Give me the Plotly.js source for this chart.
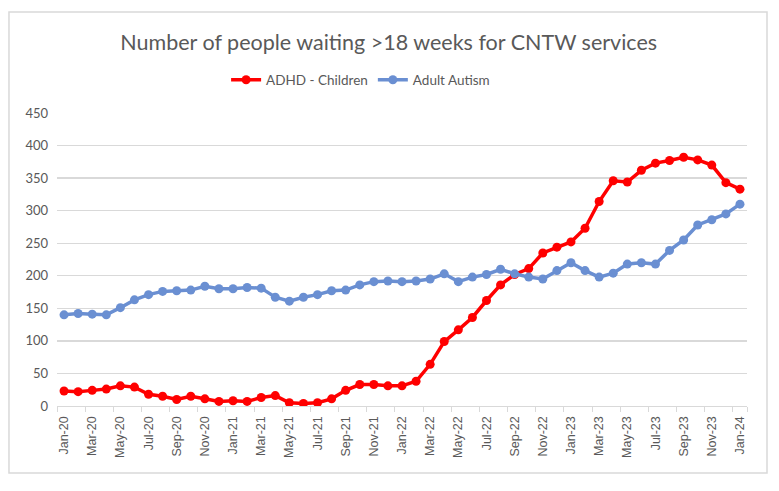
<!DOCTYPE html>
<html>
<head>
<meta charset="utf-8">
<script src="https://cdn.plot.ly/plotly-3.0.1.min.js"></script>
<style>html,body{margin:0;padding:0;background:#fff;}#chart{width:779px;height:491px;}</style>
</head>
<body>
<div id="chart"></div>
<script>
const months = ["Jan-20","Feb-20","Mar-20","Apr-20","May-20","Jun-20","Jul-20","Aug-20","Sep-20","Oct-20","Nov-20","Dec-20",
"Jan-21","Feb-21","Mar-21","Apr-21","May-21","Jun-21","Jul-21","Aug-21","Sep-21","Oct-21","Nov-21","Dec-21",
"Jan-22","Feb-22","Mar-22","Apr-22","May-22","Jun-22","Jul-22","Aug-22","Sep-22","Oct-22","Nov-22","Dec-22",
"Jan-23","Feb-23","Mar-23","Apr-23","May-23","Jun-23","Jul-23","Aug-23","Sep-23","Oct-23","Nov-23","Dec-23","Jan-24"];
const adhdChildren = [23,22,24,26,31,29,18,15,10,15,11,7,8,7,13,16,5,4,5,11,24,33,33,31,31,38,64,99,117,136,162,186,202,211,235,244,252,273,314,346,344,362,373,377,382,378,370,343,333];
const adultAutism = [140,142,141,140,151,163,171,176,177,178,184,180,180,182,181,167,161,167,171,177,178,186,191,192,191,192,195,203,191,198,202,210,203,198,195,208,220,208,198,204,218,220,218,239,255,278,286,295,310];
const tickLabels = months.filter((m,i)=>i%2===0);
const yTicks = [0,50,100,150,200,250,300,350,400,450];

const traces = [
  {x: months, y: adhdChildren, name: "ADHD - Children", type: "scatter", mode: "lines+markers",
   line: {color: "#FF0000", width: 3.5}, marker: {color: "#FF0000", size: 9}},
  {x: months, y: adultAutism, name: "Adult Autism", type: "scatter", mode: "lines+markers",
   line: {color: "#6A8FD2", width: 3.5}, marker: {color: "#6A8FD2", size: 9}}
];

const layout = {
  width: 779, height: 491,
  margin: {l: 57, r: 32, t: 113, b: 85},
  paper_bgcolor: "#ffffff", plot_bgcolor: "#ffffff",
  font: {family: "Lato, 'Open Sans', sans-serif", color: "#595959"},
  title: {text: "Number of people waiting >18 weeks for CNTW services", font: {size: 21.5, color: "#595959", family: "Lato, 'Open Sans', sans-serif"},
          x: 0.499, xanchor: "center", xref: "container", y: 0.914, yref: "container", yanchor: "middle"},
  showlegend: true,
  legend: {orientation: "h", x: 0.44, xanchor: "center", y: 1.1126, yanchor: "middle",
           font: {size: 13.5, color: "#595959"}, bgcolor: "rgba(0,0,0,0)", traceorder: "normal"},
  xaxis: {type: "category", range: [-0.5, 48.5], tickmode: "array", tickvals: tickLabels, ticktext: tickLabels,
          tickangle: -90, tickfont: {size: 12.5, color: "#595959", family: "'Liberation Sans', Arial, sans-serif"},
          showgrid: false, showline: true, linecolor: "#d9d9d9", linewidth: 1.3,
          ticks: "outside", tickson: "boundaries", ticklen: 5, tickcolor: "#d9d9d9", zeroline: false, fixedrange: true,
          ticklabelstandoff: 4},
  yaxis: {range: [0, 450], tickmode: "array", tickvals: yTicks, showgrid: true, gridcolor: "#d9d9d9", gridwidth: 1.3,
          showline: false, zeroline: false, ticks: "", tickfont: {size: 13, color: "#595959"}, ticklabelstandoff: 8},
  shapes: [{type: "rect", xref: "paper", yref: "paper", x0: -0.0696, x1: 1.029, y0: -0.2287, y1: 1.3447,
            line: {color: "#d9d9d9", width: 1.5}, fillcolor: "rgba(0,0,0,0)", layer: "below"}]
};

Plotly.newPlot("chart", traces, layout, {displayModeBar: false, staticPlot: true});
</script>
</body>
</html>
